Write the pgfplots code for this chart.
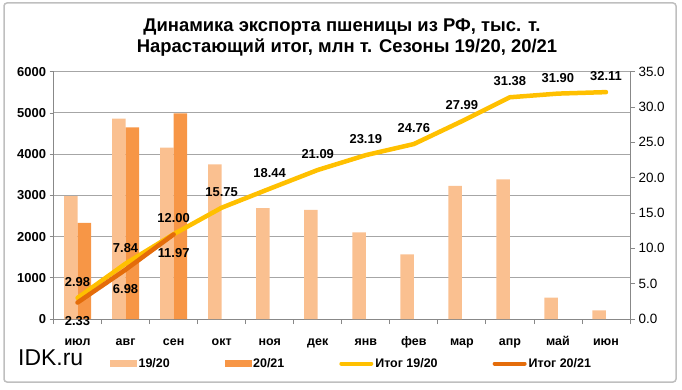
\documentclass[border=0pt]{standalone}
\usepackage{pgfplots}
\pgfplotsset{compat=1.18}
\usepackage{fontspec}
\setmainfont{Liberation Sans}
\definecolor{barA}{HTML}{FAC090}
\definecolor{barB}{HTML}{F79646}
\definecolor{lineA}{HTML}{FFC000}
\definecolor{lineB}{HTML}{E46C0A}
\definecolor{gridc}{HTML}{A6A6A6}
\definecolor{axc}{HTML}{888888}
\definecolor{frame}{HTML}{BFBFBF}
\begin{document}
\begin{tikzpicture}[x=1bp,y=1bp]
\useasboundingbox (0,0) rectangle (682,389);
\draw[color=frame, line width=1.5bp, rounded corners=3bp] (4,7) rectangle (676,386);
\node[font=\bfseries\fontsize{18.5}{20}\selectfont, anchor=base] at (342,358) {Динамика экспорта пшеницы из РФ, тыс. т.};
\node[font=\bfseries\fontsize{18.5}{20}\selectfont, anchor=base] at (347,337) {Нарастающий итог, млн т. Сезоны 19/20, 20/21};
\node[font=\fontsize{23}{23}\selectfont, anchor=base west, inner sep=0pt] at (18,24) {IDK.ru};
\begin{axis}[
  at={(53.5bp,70bp)}, anchor=south west,
  width=576.5bp, height=247.3bp, scale only axis,
  xmin=-0.5, xmax=11.5, ymin=0, ymax=6000,
  ybar=0pt, bar width=13.5bp,
  axis x line*=bottom, axis y line*=left,
  axis line style={color=axc, line width=0.8bp},
  ytick={0,1000,...,6000},
  ymajorgrids, grid style={color=gridc, line width=0.9bp},
  xtick={0,...,11},
  xticklabels={июл,авг,сен,окт,ноя,дек,янв,фев,мар,апр,май,июн},
  minor xtick={-0.5,0.5,...,11.5},
  major x tick style={draw=none},
  minor tick length=5bp, major tick length=4bp,
  tick align=outside,
  tick style={color=axc, line width=0.8bp},
  x tick label style={font=\bfseries\fontsize{12.5}{12.5}\selectfont, yshift=-10bp, text height=9bp, text depth=3bp},
  y tick label style={font=\bfseries\fontsize{13}{13}\selectfont},
  /pgf/number format/assume math mode=true,
  scaled y ticks=false,
  yticklabel style={/pgf/number format/.cd, fixed, 1000 sep={}},
]
\addplot[fill=barA, draw=none] coordinates {(0,2980) (1,4860) (2,4160) (3,3750) (4,2690) (5,2650) (6,2100) (7,1570) (8,3230) (9,3390) (10,520) (11,210)};
\addplot[fill=barB, draw=none] coordinates {(0,2330) (1,4650) (2,4990)};
\end{axis}
\begin{axis}[
  at={(53.5bp,70bp)}, anchor=south west,
  width=576.5bp, height=247.3bp, scale only axis,
  xmin=-0.5, xmax=11.5, ymin=0, ymax=35,
  axis x line=none, axis y line*=right,
  axis line style={color=axc, line width=0.8bp},
  ytick={0,5,...,35},
  tick align=outside, major tick length=5bp,
  tick style={color=axc, line width=0.8bp},
  y tick label style={font=\fontsize{13.5}{13.5}\selectfont},
  /pgf/number format/assume math mode=true,
  yticklabel style={/pgf/number format/.cd, fixed, fixed zerofill, precision=1},
  clip=false,
  legend columns=4,
  legend style={at={(0,0)}, anchor=west, xshift=56.5bp, yshift=-44.5bp,
    draw=none, fill=none, inner sep=0pt,
    font=\bfseries\fontsize{12.5}{12.5}\selectfont,
    nodes={inner sep=2bp},
    /tikz/every even column/.append style={column sep=53bp}},
]
\addlegendimage{legend image code/.code={\fill[barA] (0bp,-3bp) rectangle (26bp,3bp);}}
\addlegendentry{19/20}
\addlegendimage{legend image code/.code={\fill[barB] (0bp,-3bp) rectangle (26bp,3bp);}}
\addlegendentry{20/21}
\addplot[color=lineA, line width=4.5bp, line cap=round, line join=round,
  nodes near coords, point meta=explicit,
  every node near coord/.append style={anchor=center, yshift=16bp, text=black,
    font=\bfseries\fontsize{13}{13}\selectfont,
    /pgf/number format/.cd, fixed, fixed zerofill, precision=2, assume math mode=true},
  legend image code/.code={\draw[lineA, line width=4bp, line cap=round] (0bp,0bp)--(30bp,0bp);}]
  coordinates {(0,2.98)[2.98] (1,7.84)[7.84] (2,12.00)[12.00] (3,15.75)[15.75] (4,18.44)[18.44] (5,21.09)[21.09] (6,23.19)[23.19] (7,24.76)[24.76] (8,27.99)[27.99] (9,31.38)[31.38] (10,31.90)[31.90] (11,32.11)[32.11]};
\addlegendentry{Итог 19/20}
\addplot[color=lineB, line width=4.5bp, line cap=round, line join=round,
  nodes near coords, point meta=explicit,
  every node near coord/.append style={anchor=center, yshift=-19bp, text=black,
    font=\bfseries\fontsize{13}{13}\selectfont,
    /pgf/number format/.cd, fixed, fixed zerofill, precision=2, assume math mode=true},
  legend image code/.code={\draw[lineB, line width=4bp, line cap=round] (0bp,0bp)--(30bp,0bp);}]
  coordinates {(0,2.33)[2.33] (1,6.98)[6.98] (2,11.97)[11.97]};
\addlegendentry{Итог 20/21}
\end{axis}
\end{tikzpicture}
\end{document}
